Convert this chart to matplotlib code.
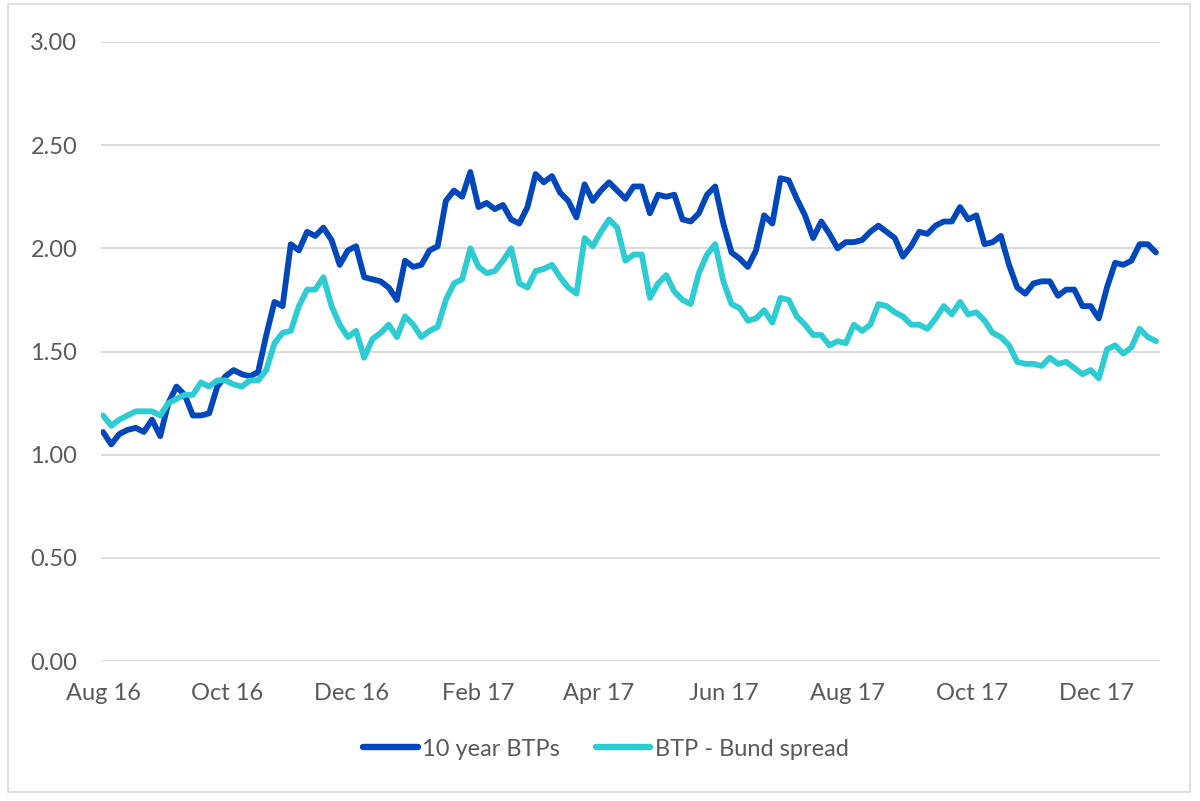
import pandas as pd
import matplotlib.pyplot as plt
import matplotlib.dates as mdates
from matplotlib.patches import Rectangle

# readings every 4 days from 1 Aug 2016
dates = pd.date_range('2016-08-01', '2017-12-31', freq='4D')

btp_10y = [
    1.11, 1.05, 1.10, 1.12, 1.13, 1.11, 1.17, 1.09, 1.25, 1.33,
    1.29, 1.19, 1.19, 1.20, 1.33, 1.38, 1.41, 1.39, 1.38, 1.40,
    1.58, 1.74, 1.72, 2.02, 1.99, 2.08, 2.06, 2.10, 2.04, 1.92,
    1.99, 2.01, 1.86, 1.85, 1.84, 1.81, 1.75, 1.94, 1.91, 1.92,
    1.99, 2.01, 2.23, 2.28, 2.25, 2.37, 2.20, 2.22, 2.19, 2.21,
    2.14, 2.12, 2.20, 2.36, 2.32, 2.35, 2.27, 2.23, 2.15, 2.31,
    2.23, 2.28, 2.32, 2.28, 2.24, 2.30, 2.30, 2.17, 2.26, 2.25,
    2.26, 2.14, 2.13, 2.17, 2.26, 2.30, 2.12, 1.98, 1.95, 1.91,
    1.99, 2.16, 2.12, 2.34, 2.33, 2.24, 2.16, 2.05, 2.13, 2.07,
    2.00, 2.03, 2.03, 2.04, 2.08, 2.11, 2.08, 2.05, 1.96, 2.01,
    2.08, 2.07, 2.11, 2.13, 2.13, 2.20, 2.14, 2.16, 2.02, 2.03,
    2.06, 1.92, 1.81, 1.78, 1.83, 1.84, 1.84, 1.77, 1.80, 1.80,
    1.72, 1.72, 1.66, 1.81, 1.93, 1.92, 1.94, 2.02, 2.02, 1.98,
]

bund_spread = [
    1.19, 1.14, 1.17, 1.19, 1.21, 1.21, 1.21, 1.19, 1.25, 1.27,
    1.29, 1.29, 1.35, 1.33, 1.36, 1.36, 1.34, 1.33, 1.36, 1.36,
    1.41, 1.54, 1.59, 1.60, 1.72, 1.80, 1.80, 1.86, 1.72, 1.63,
    1.57, 1.60, 1.47, 1.56, 1.59, 1.63, 1.57, 1.67, 1.63, 1.57,
    1.60, 1.62, 1.75, 1.83, 1.85, 2.00, 1.91, 1.88, 1.89, 1.94,
    2.00, 1.83, 1.81, 1.89, 1.90, 1.92, 1.86, 1.81, 1.78, 2.05,
    2.01, 2.08, 2.14, 2.10, 1.94, 1.97, 1.97, 1.76, 1.83, 1.87,
    1.79, 1.75, 1.73, 1.88, 1.97, 2.02, 1.84, 1.73, 1.71, 1.65,
    1.66, 1.70, 1.64, 1.76, 1.75, 1.67, 1.63, 1.58, 1.58, 1.53,
    1.55, 1.54, 1.63, 1.60, 1.63, 1.73, 1.72, 1.69, 1.67, 1.63,
    1.63, 1.61, 1.66, 1.72, 1.68, 1.74, 1.68, 1.69, 1.65, 1.59,
    1.57, 1.53, 1.45, 1.44, 1.44, 1.43, 1.47, 1.44, 1.45, 1.42,
    1.39, 1.41, 1.37, 1.51, 1.53, 1.49, 1.52, 1.61, 1.57, 1.55,
]

series_names = ['10 year BTPs', 'BTP - Bund spread']
y_ticks = [0.0, 0.5, 1.0, 1.5, 2.0, 2.5, 3.0]

plt.rcParams['font.family'] = ['Lato', 'DejaVu Sans']
text_grey = '#595959'
grid_grey = '#D9D9D9'

fig = plt.figure(figsize=(12, 8.01), dpi=100)
ax = fig.add_axes([101 / 1200, 1 - 661 / 801, (1160 - 101) / 1200, (661 - 42) / 801])

# outer chart frame like the Excel chart area
fig.patches.append(Rectangle((8 / 1200, 1 - 792 / 801), 1182 / 1200, 788 / 801,
                             transform=fig.transFigure, fill=False,
                             edgecolor=grid_grey, linewidth=1.2))

ax.plot(dates, btp_10y, color='#0047BB', lw=4.2, solid_joinstyle='round',
        solid_capstyle='round', label=series_names[0], zorder=3)
ax.plot(dates, bund_spread, color='#2DCCD3', lw=4.2, solid_joinstyle='round',
        solid_capstyle='round', label=series_names[1], zorder=3)

ax.set_ylim(0, 3)
ax.set_yticks(y_ticks)
ax.yaxis.set_major_formatter(plt.FuncFormatter(lambda v, p: f'{v:.2f}'))
ax.set_xlim(pd.Timestamp('2016-07-31'), pd.Timestamp('2018-01-01'))
ax.xaxis.set_major_locator(mdates.MonthLocator(bymonth=[2, 4, 6, 8, 10, 12]))
ax.xaxis.set_major_formatter(mdates.DateFormatter('%b %y'))

ax.grid(axis='y', color=grid_grey, lw=1.3)
ax.set_axisbelow(True)
for s in ax.spines.values():
    s.set_visible(False)
ax.tick_params(axis='both', length=0, labelsize=17, labelcolor=text_grey)
ax.tick_params(axis='x', pad=16)
ax.tick_params(axis='y', pad=17)

leg = fig.legend(loc='center', bbox_to_anchor=(606 / 1200, 1 - 749 / 801), ncol=2,
                 frameon=False, fontsize=17, handlelength=2.3, handletextpad=0.2,
                 columnspacing=1.5, labelcolor=text_grey)
for h in leg.get_lines():
    h.set_linewidth(4.6)
    h.set_solid_capstyle('round')

fig.savefig('out.png', dpi=100)
